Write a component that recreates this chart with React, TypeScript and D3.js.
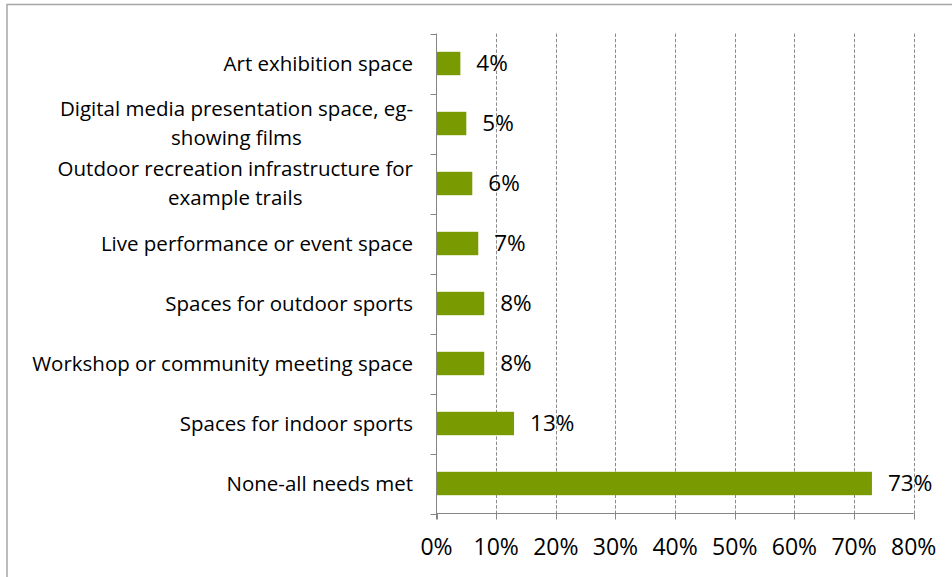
import React, { useEffect, useRef } from "react";
import * as d3 from "d3";

const categories: string[][] = [
  ["Art exhibition space"],
  ["Digital media presentation space, eg-", "showing films"],
  ["Outdoor recreation infrastructure for", "example trails"],
  ["Live performance or event space"],
  ["Spaces for outdoor sports"],
  ["Workshop or community meeting space"],
  ["Spaces for indoor sports"],
  ["None-all needs met"],
];
const values: number[] = [4, 5, 6, 7, 8, 8, 13, 73];
const ticks: number[] = [0, 10, 20, 30, 40, 50, 60, 70, 80];

const W = 952;
const H = 577;
const FONT = "'Open Sans', sans-serif";

export default function App() {
  const ref = useRef<SVGSVGElement | null>(null);

  useEffect(() => {
    const svg = d3.select(ref.current);
    svg.selectAll("*").remove();

    const x0 = 436.5, x1 = 913.7, yTop = 33.5, yBot = 513.5;
    const x = d3.scaleLinear().domain([0, 80]).range([x0, x1]);
    const y = d3
      .scaleBand<number>()
      .domain(d3.range(categories.length))
      .range([yTop, yBot])
      .paddingInner(0.61)
      .paddingOuter(0.305);
    const step = (yBot - yTop) / categories.length;

    svg.append("rect").attr("width", W).attr("height", H).attr("fill", "#fff");

    // chart border
    svg
      .append("path")
      .attr("d", `M7,${H} L7,4.5 L${W},4.5`)
      .attr("fill", "none")
      .attr("stroke", "#a6a6a6")
      .attr("stroke-width", 1.5);

    // gridlines
    svg
      .append("g")
      .selectAll("line")
      .data(ticks.slice(1))
      .join("line")
      .attr("x1", (d) => Math.round(x(d)) + 0.5)
      .attr("x2", (d) => Math.round(x(d)) + 0.5)
      .attr("y1", yTop)
      .attr("y2", yBot)
      .attr("stroke", "#8c8c8c")
      .attr("stroke-width", 1)
      .attr("stroke-dasharray", "3.5,1.8");

    // bars
    svg
      .append("g")
      .selectAll("rect")
      .data(values)
      .join("rect")
      .attr("x", x0)
      .attr("y", (_, i) => y(i)!)
      .attr("width", (d) => x(d) - x0)
      .attr("height", y.bandwidth())
      .attr("fill", "#7a9a01");

    // value labels
    svg
      .append("g")
      .selectAll("text")
      .data(values)
      .join("text")
      .attr("x", (d) => x(d) + 16)
      .attr("y", (_, i) => y(i)! + y.bandwidth() / 2)
      .attr("dy", "0.35em")
      .attr("font-family", FONT)
      .attr("font-size", 22.5)
      .attr("fill", "#000")
      .text((d) => `${d}%`);

    // vertical axis
    const ax = svg.append("g").attr("stroke", "#868686").attr("stroke-width", 1).attr("fill", "none");
    ax.append("line").attr("x1", x0).attr("x2", x0).attr("y1", yTop).attr("y2", yBot + 6);
    d3.range(categories.length + 1).forEach((i) => {
      const yy = Math.round(yTop + i * step) + 0.5;
      ax.append("line").attr("x1", x0 - 6).attr("x2", x0).attr("y1", yy).attr("y2", yy);
    });
    // horizontal axis
    ax.append("line").attr("x1", x0).attr("x2", x1).attr("y1", yBot).attr("y2", yBot);
    ticks.forEach((t) => {
      const xx = Math.round(x(t)) + 0.5;
      ax.append("line").attr("x1", xx).attr("x2", xx).attr("y1", yBot).attr("y2", yBot + 6);
    });

    // x tick labels
    svg
      .append("g")
      .selectAll("text")
      .data(ticks)
      .join("text")
      .attr("x", (d) => x(d))
      .attr("y", 547)
      .attr("dy", "0.35em")
      .attr("text-anchor", "middle")
      .attr("font-family", FONT)
      .attr("font-size", 23)
      .attr("fill", "#000")
      .text((d) => `${d}%`);

    // category labels
    const lineH = 29.5;
    const labelRight = 413;
    const cg = svg.append("g");
    categories.forEach((lines, i) => {
      const cy = y(i)! + y.bandwidth() / 2;
      const texts = lines.map((ln, j) =>
        cg
          .append("text")
          .attr("y", cy + (j - (lines.length - 1) / 2) * lineH)
          .attr("dy", "0.35em")
          .attr("text-anchor", "middle")
          .attr("font-family", FONT)
          .attr("font-size", 20.5)
          .attr("fill", "#000")
          .text(ln)
      );
      const widths = texts.map((t) => (t.node() as SVGTextElement).getComputedTextLength());
      const maxW = d3.max(widths) || 0;
      texts.forEach((t) => t.attr("x", labelRight - maxW / 2));
    });
  }, []);

  return (
    <svg
      ref={ref}
      width={W}
      height={H}
      style={{ position: "absolute", left: 0, top: 0, display: "block" }}
    />
  );
}
